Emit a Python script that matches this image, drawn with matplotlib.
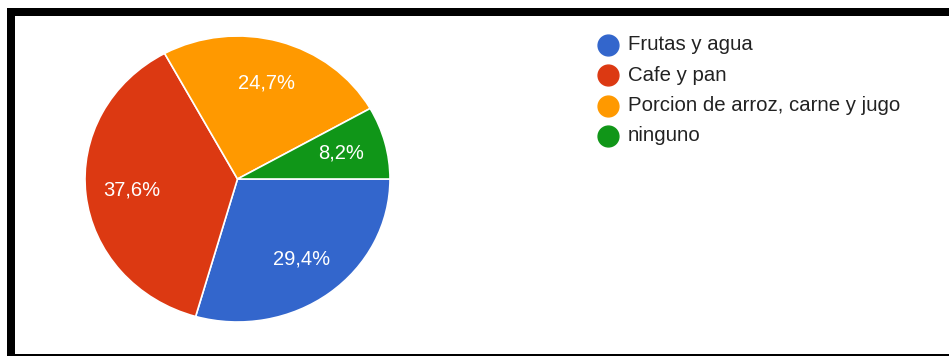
import matplotlib.pyplot as plt
from matplotlib.patches import Rectangle
from matplotlib.lines import Line2D

plt.rcParams['font.family'] = ['Liberation Sans', 'DejaVu Sans']

labels = ['Frutas y agua', 'Cafe y pan', 'Porcion de arroz, carne y jugo', 'ninguno']
shares = [29.4, 37.6, 24.7, 8.2]
colors = ['#3366CC', '#DC3912', '#FF9900', '#109618']

W, H = 949, 356
fig = plt.figure(figsize=(W / 100, H / 100), dpi=100)
fig.patch.set_facecolor('white')

# pie area (pixels, measured from top-left)
px_left, px_right, px_top, px_bottom = 85, 390, 36, 322
ax = fig.add_axes([px_left / W, (H - px_bottom) / H,
                   (px_right - px_left) / W, (px_bottom - px_top) / H])
wedges, texts, autotexts = ax.pie(
    shares, colors=colors, startangle=0, counterclock=False,
    autopct=lambda p: f'{p:.1f}%'.replace('.', ','), pctdistance=0.70,
    wedgeprops=dict(edgecolor='white', linewidth=1.2),
    textprops=dict(color='white', fontsize=14.5))
ax.set_aspect('auto')
ax.set_xlim(-1, 1)
ax.set_ylim(-1, 1)

# legend drawn by hand: dot + label per row
leg_x_dot, leg_x_text = 608, 628
leg_y0, leg_dy = 45, 30.3
for i, (lab, col) in enumerate(zip(labels, colors)):
    y = 1 - (leg_y0 + i * leg_dy) / H
    fig.add_artist(Line2D([leg_x_dot / W], [y], marker='o', markersize=15,
                          color=col, linestyle='none', transform=fig.transFigure))
    fig.text(leg_x_text / W, y, lab, fontsize=14.7, color='#222222',
             va='center', ha='left')

# frame around the screenshot
def px_rect(x0, y0, x1, y1):
    fig.patches.append(Rectangle((x0 / W, 1 - y1 / H), (x1 - x0) / W, (y1 - y0) / H,
                                 transform=fig.transFigure, color='black',
                                 linewidth=0, zorder=10))

px_rect(7, 8, W, 16)      # top
px_rect(7, 8, 14.7, H)    # left
px_rect(7, 354, W, H)     # bottom

fig.savefig('out.png', dpi=100)
